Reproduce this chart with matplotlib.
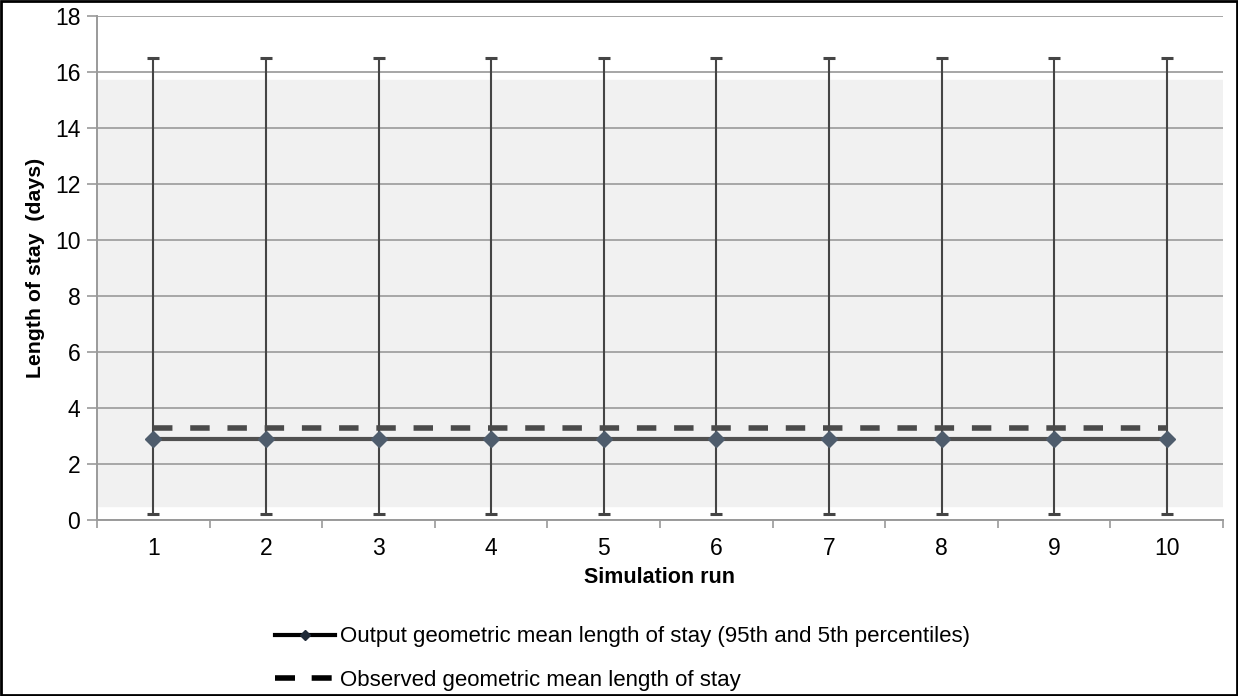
import numpy as np
import matplotlib.pyplot as plt
from matplotlib.lines import Line2D

plt.rcParams['font.family'] = ['Liberation Sans', 'DejaVu Sans']

# data
runs = [1, 2, 3, 4, 5, 6, 7, 8, 9, 10]
geo_mean = [2.9, 2.9, 2.9, 2.9, 2.9, 2.9, 2.9, 2.9, 2.9, 2.9]
p95 = [16.5, 16.5, 16.5, 16.5, 16.5, 16.5, 16.5, 16.5, 16.5, 16.5]
p5 = [0.2, 0.2, 0.2, 0.2, 0.2, 0.2, 0.2, 0.2, 0.2, 0.2]
observed = 3.3
band_low, band_high = 0.5, 15.7

fig = plt.figure(figsize=(12.38, 6.96), dpi=100)
ax = fig.add_axes([97 / 1238, 1 - 520 / 696, 1126 / 1238, 504 / 696])

x = np.array(runs)
y = np.array(geo_mean)
yerr = [y - np.array(p5), np.array(p95) - y]

# shaded band behind the plot
ax.axhspan(band_low, band_high, color='#f1f1f1', zorder=0)

ax.errorbar(x, y, yerr=yerr, fmt='none', ecolor='#454545', elinewidth=1.5,
            capsize=4, capthick=2.2, zorder=2)
ax.plot(x, y, color='#505050', lw=3, zorder=3)
ax.plot(x, y, ls='none', marker='D', ms=8, mfc='#4e5c6c', mec='#4e5c6c', zorder=4)
ax.plot([runs[0], runs[-1]], [observed, observed], color='#4a4a4a', lw=4,
        ls=(0, (3.5, 3.2)), zorder=3)

ax.set_xlim(0.5, 10.5)
ax.set_ylim(0, 18)
ax.set_yticks(np.arange(0, 19, 2))
ax.set_xticks(runs)
ax.set_xticks(np.arange(0.5, 11, 1), minor=True)
ax.tick_params(axis='x', which='major', length=0, labelsize=16.5, pad=12)
ax.tick_params(axis='x', which='minor', length=6, color='#9a9a9a', width=1.2)
ax.tick_params(axis='y', length=7, color='#9a9a9a', width=1.2, labelsize=16.5, pad=5)
ax.yaxis.grid(True, color='#a6a6a6', lw=1.4, zorder=1)
ax.set_axisbelow(True)
for s in ['top', 'right']:
    ax.spines[s].set_visible(False)
for s in ['left', 'bottom']:
    ax.spines[s].set_color('#9a9a9a')
    ax.spines[s].set_linewidth(1.4)

ax.set_xlabel('Simulation run', fontsize=15.5, fontweight='bold', labelpad=5)
ax.set_ylabel('Length of stay  (days)', fontsize=15.3, fontweight='bold', labelpad=7)

handles = [
    Line2D([], [], color='black', lw=3, marker='D', ms=5, mfc='#1f2a38', mec='#1f2a38'),
    Line2D([], [], color='black', lw=4, ls=(0, (3.6, 3.0))),
]
labels = ['Output geometric mean length of stay (95th and 5th percentiles)',
          'Observed geometric mean length of stay']
fig.legend(handles, labels, loc='center left', bbox_to_anchor=(0.2062, 0.054),
           frameon=False, fontsize=16, handlelength=2.7, handletextpad=0.22,
           labelspacing=1.0)

# outer frame
fig.patches.append(plt.Rectangle((0.001, 0.001), 0.998, 0.997, transform=fig.transFigure,
                                 fill=False, edgecolor='black', lw=2))

fig.savefig('out.png', dpi=100)
